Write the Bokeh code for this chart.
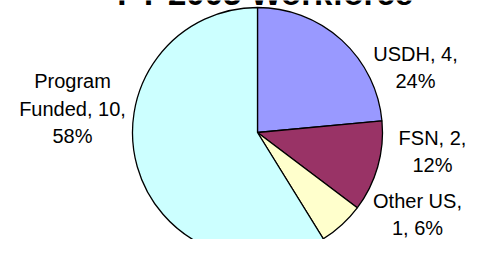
import math
from bokeh.plotting import figure
from bokeh.models import ColumnDataSource, Range1d
from bokeh.core.properties import value
from bokeh.embed import file_html
from bokeh.resources import INLINE

# ---- data ----
title_text = "FY 2005 Workforce"
categories = ["USDH", "FSN", "Other US", "Program Funded"]
counts = [4, 2, 1, 10]
percents = [24, 12, 6, 58]
colors = ["#9999FF", "#993366", "#FFFFCC", "#CCFFFF"]

# label line layouts (how each data label wraps)
label_formats = [
    "{c}, {n},\n{p}%",
    "{c}, {n},\n{p}%",
    "{c},\n{n}, {p}%",
    "Program\nFunded, {n},\n{p}%",
]
labels = [f.format(c=c, n=n, p=p) for f, c, n, p in zip(label_formats, categories, counts, percents)]

# ---- layout (pixel-like data space) ----
W, H = 469, 239
cx, cy, R = 257, 107, 125
label_pos = [(415, 172), (432, 88), (417, 25), (72, 131)]

total = sum(counts)
starts, ends = [], []
a = math.pi / 2
for v in counts:
    starts.append(a)
    a -= 2 * math.pi * v / total
    ends.append(a)

p = figure(width=W, height=H, output_backend="svg", toolbar_location=None,
           x_range=Range1d(0, W), y_range=Range1d(0, H), min_border=0)
p.axis.visible = False
p.grid.visible = False
p.outline_line_color = None
p.background_fill_color = "white"

src = ColumnDataSource(dict(x=[cx] * len(counts), y=[cy] * len(counts), start=starts, end=ends,
                            color=colors, cat=categories))
p.wedge(x="x", y="y", radius=R, start_angle="start", end_angle="end", direction="clock",
        fill_color="color", line_color="black", line_width=1.3, source=src)

lsrc = ColumnDataSource(dict(x=[q[0] for q in label_pos], y=[q[1] for q in label_pos], text=labels))
p.text(x="x", y="y", text="text", source=lsrc, text_font=value("Liberation Sans"),
       text_font_size="20px", text_align="center", text_baseline="middle",
       text_line_height=1.25, text_color="black")

p.text(x=[265], y=[246], text=[title_text], text_font=value("Liberation Sans"),
       text_font_size="33px", text_font_style="bold", text_align="center",
       text_baseline="alphabetic", text_color="black")

open("out.html", "w").write(file_html(p, INLINE))
